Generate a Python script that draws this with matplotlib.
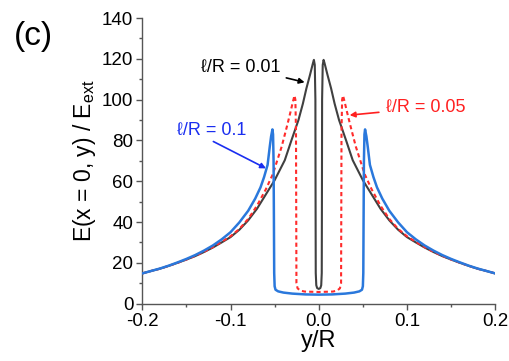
import numpy as np
import matplotlib
matplotlib.use('Agg')
import matplotlib.pyplot as plt
from matplotlib.ticker import MultipleLocator

plt.rcParams['font.family'] = ['Liberation Sans', 'DejaVu Sans']
plt.rcParams['mathtext.fontset'] = 'custom'
plt.rcParams['mathtext.rm'] = 'Liberation Sans'
plt.rcParams['mathtext.it'] = 'Liberation Sans'

# l/R = 0.1 (blue)
y_blue = [-0.200, -0.190, -0.180, -0.170, -0.160, -0.150, -0.140, -0.130, -0.120, -0.110,
          -0.100, -0.090, -0.080, -0.072, -0.066, -0.062, -0.058, -0.0555, -0.054, -0.0525,
          -0.0518, -0.0512, -0.0508, -0.0505, -0.0500, -0.0490, -0.0460, -0.040, -0.030, -0.015,
          0.000,
          0.015, 0.030, 0.040, 0.0460, 0.0490, 0.0500, 0.0505, 0.0508, 0.0512, 0.0518,
          0.0525, 0.054, 0.0555, 0.058, 0.062, 0.066, 0.072, 0.080, 0.090, 0.100,
          0.110, 0.120, 0.130, 0.140, 0.150, 0.160, 0.170, 0.180, 0.190, 0.200]
E_blue = [14.8, 16.0, 17.2, 18.6, 20.2, 21.9, 23.8, 26.0, 28.5, 31.5,
          35.0, 39.8, 45.5, 51.5, 57.0, 62.0, 68.0, 77.0, 82.0, 85.4,
          83.0, 70.0, 40.0, 15.0, 8.5, 6.8, 6.0, 5.4, 4.9, 4.5,
          4.4,
          4.5, 4.9, 5.4, 6.0, 6.8, 8.5, 15.0, 40.0, 70.0, 83.0,
          85.4, 82.0, 77.0, 68.0, 62.0, 57.0, 51.5, 45.5, 39.8, 35.0,
          31.5, 28.5, 26.0, 23.8, 21.9, 20.2, 18.6, 17.2, 16.0, 14.8]

# l/R = 0.05 (red dashed)
y_red = [-0.200, -0.190, -0.180, -0.170, -0.160, -0.150, -0.140, -0.130, -0.120, -0.110,
         -0.100, -0.090, -0.080, -0.070, -0.060, -0.052, -0.042, -0.036, -0.032, -0.029,
         -0.0275, -0.0265, -0.0258, -0.0255, -0.0253, -0.0240, -0.0210, -0.0160, 0.000,
         0.0160, 0.0210, 0.0240, 0.0253, 0.0255, 0.0258, 0.0265, 0.0275, 0.029, 0.032,
         0.036, 0.042, 0.052, 0.060, 0.070, 0.080, 0.090, 0.100, 0.110, 0.120,
         0.130, 0.140, 0.150, 0.160, 0.170, 0.180, 0.190, 0.200]
E_red = [14.8, 16.0, 17.1, 18.5, 20.0, 21.6, 23.4, 25.4, 27.7, 30.3,
         33.0, 36.6, 41.5, 48.0, 56.0, 63.5, 77.0, 87.0, 94.0, 99.5,
         102.0, 100.0, 85.0, 40.0, 10.0, 7.5, 6.4, 5.9, 5.7,
         5.9, 6.4, 7.5, 10.0, 40.0, 85.0, 100.0, 102.0, 99.5, 94.0,
         87.0, 77.0, 63.5, 56.0, 48.0, 41.5, 36.6, 33.0, 30.3, 27.7,
         25.4, 23.4, 21.6, 20.0, 18.5, 17.1, 16.0, 14.8]

# l/R = 0.01 (black)
y_black = [-0.200, -0.190, -0.180, -0.170, -0.160, -0.150, -0.140, -0.130, -0.120, -0.110,
           -0.100, -0.090, -0.080, -0.070, -0.060, -0.050, -0.0385, -0.031, -0.023, -0.018,
           -0.014, -0.010, -0.0065, -0.0055, -0.0045, -0.0038, -0.0036, -0.0034, -0.0028, -0.0018,
           0.000,
           0.0018, 0.0028, 0.0034, 0.0036, 0.0038, 0.0045, 0.0055, 0.0065, 0.010, 0.014,
           0.018, 0.023, 0.031, 0.0385, 0.050, 0.060, 0.070, 0.080, 0.090, 0.100,
           0.110, 0.120, 0.130, 0.140, 0.150, 0.160, 0.170, 0.180, 0.190, 0.200]
E_black = [14.8, 16.0, 17.1, 18.5, 20.0, 21.6, 23.3, 25.3, 27.5, 30.0,
           32.6, 36.2, 40.8, 46.5, 53.5, 60.5, 70.3, 80.0, 90.0, 98.0,
           105.5, 112.0, 118.0, 119.5, 117.0, 100.0, 50.0, 15.0, 9.0, 7.6,
           7.2,
           7.6, 9.0, 15.0, 50.0, 100.0, 117.0, 119.5, 118.0, 112.0, 105.5,
           98.0, 90.0, 80.0, 70.3, 60.5, 53.5, 46.5, 40.8, 36.2, 32.6,
           30.0, 27.5, 25.3, 23.3, 21.6, 20.0, 18.5, 17.1, 16.0, 14.8]

fig = plt.figure(figsize=(5.1, 3.61), dpi=100)
ax = fig.add_axes([0.279, 0.159, 0.692, 0.791])

ax.plot(y_black, E_black, color='#404040', lw=1.5, zorder=3)
ax.plot(y_red, E_red, color='#ff2b2b', lw=1.5, ls=(0, (2, 1.5)), zorder=4)
ax.plot(y_blue, E_blue, color='#2a78dc', lw=1.8, zorder=5)

ax.set_xlim(-0.2, 0.2)
ax.set_ylim(0, 140)
ax.xaxis.set_minor_locator(MultipleLocator(0.05))
ax.yaxis.set_major_locator(MultipleLocator(20))
ax.yaxis.set_minor_locator(MultipleLocator(10))
ax.set_xticks([-0.2, -0.1, 0.0, 0.1, 0.2])
ax.set_xticklabels(['-0.2', '-0.1', '0.0', '0.1', '0.2'])

for s in ['top', 'right']:
    ax.spines[s].set_visible(False)
for s in ['left', 'bottom']:
    ax.spines[s].set_color('#555555')
    ax.spines[s].set_linewidth(1.0)
ax.tick_params(which='major', direction='out', length=4.5, width=1, color='#555555',
               labelsize=13.5, pad=2)
ax.tick_params(which='minor', direction='out', length=2.5, width=1, color='#555555')

ax.set_xlabel('y/R', fontsize=17, labelpad=0)
ax.set_ylabel('E(x = 0, y) / E$_{\\mathrm{ext}}$', fontsize=16.5, labelpad=3)

fig.text(0.028, 0.875, '(c)', fontsize=24)

ax.annotate('ℓ/R = 0.01', xy=(-0.016, 108.5), xytext=(-0.043, 116),
            ha='right', va='center', fontsize=13, color='black',
            arrowprops=dict(arrowstyle='-|>', color='black', lw=1.2, mutation_scale=8,
                            shrinkA=2, shrinkB=0))
ax.annotate('ℓ/R = 0.05', xy=(0.035, 92.4), xytext=(0.076, 96),
            ha='left', va='center', fontsize=13, color='#ff2020',
            arrowprops=dict(arrowstyle='-|>', color='#ff2020', lw=1.2, mutation_scale=8,
                            shrinkA=3, shrinkB=0))
ax.annotate('ℓ/R = 0.1', xy=(-0.0598, 66.3), xytext=(-0.161, 85),
            ha='left', va='center', fontsize=13, color='#1a2ef0',
            arrowprops=dict(arrowstyle='-|>', color='#1a2ef0', lw=1.2, mutation_scale=8,
                            shrinkA=0, shrinkB=0, relpos=(0.45, 0.0)))

fig.savefig('out.png', dpi=100)
